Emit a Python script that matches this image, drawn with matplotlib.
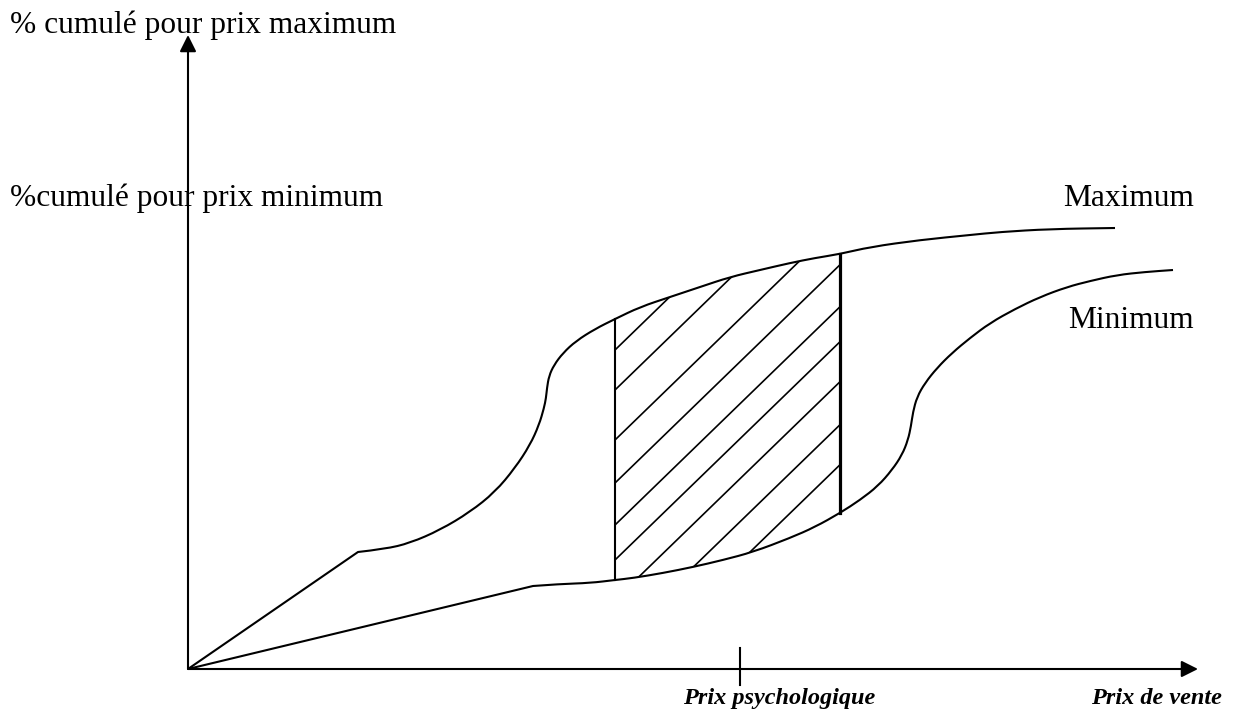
import numpy as np
import matplotlib.pyplot as plt
from matplotlib.patches import Polygon, PathPatch
from matplotlib.path import Path

# Courbe "Maximum" (% cumulé pour prix maximum), coordonnées
max_x = [188, 358, 385, 410, 440, 470, 495, 515, 530, 539, 544, 546, 547, 549, 554,
         563, 576, 595, 615, 640, 670, 700, 730, 760, 790, 815, 840, 870, 920,
         970, 1000, 1050, 1115]
max_y = [669, 552, 549, 543, 530, 512, 492, 468, 445, 425, 408, 398, 388, 376, 365,
         353, 341, 329, 319, 307, 297, 287, 277, 270, 263, 258, 254, 247, 240,
         235, 232, 229, 228]

# Courbe "Minimum" (% cumulé pour prix minimum)
min_x = [188, 533, 560, 590, 615, 633, 663, 693, 723, 753, 790, 815, 840, 860, 878,
         892, 902, 908, 911, 913, 917, 925, 937, 952, 970, 990, 1015, 1040,
         1067, 1090, 1117, 1145, 1173]
min_y = [669, 586, 584, 583, 580, 578, 573, 567, 560, 552, 538, 527, 513, 500, 486,
         470, 455, 440, 426, 412, 397, 383, 368, 353, 338, 323, 309, 297,
         287, 281, 275, 272, 270]

# zone acceptable (hachurée) entre deux prix
zone_gauche = 615
zone_droite = 840
hachures = [350, 390, 440, 483, 525, 560, 600, 643, 683]  # ordonnées à x = zone_gauche
pente = 0.97

prix_psy = 740
origine = (188, 669)
fin_axe_x = 1198
fin_axe_y = 35

fig = plt.figure(figsize=(12.33, 7.11), dpi=100)
ax = fig.add_axes([0, 0, 1, 1])
ax.set_xlim(0, 1233)
ax.set_ylim(711, 0)
ax.axis('off')

lw = 1.5


def courbe_lisse(xs, ys):
    # segment droit depuis l'origine, puis courbe de Bézier quadratique
    pts = np.column_stack([xs, ys]).astype(float)
    verts = [pts[0], pts[1]]
    codes = [Path.MOVETO, Path.LINETO]
    for k in range(2, len(pts) - 1):
        verts += [pts[k], (pts[k] + pts[k + 1]) / 2]
        codes += [Path.CURVE3, Path.CURVE3]
    verts.append(pts[-1])
    codes.append(Path.LINETO)
    return Path(verts, codes)


# axes avec flèches
fleche = dict(arrowstyle='-|>,head_length=0.5,head_width=0.25', lw=lw,
              color='black', mutation_scale=20, shrinkA=0, shrinkB=0)
ax.annotate('', xy=(origine[0], fin_axe_y), xytext=origine, arrowprops=fleche)
ax.annotate('', xy=(fin_axe_x, origine[1]), xytext=origine, arrowprops=fleche)
ax.plot([prix_psy, prix_psy], [648, 685], color='black', lw=lw)

# courbes
for xs, ys in [(max_x, max_y), (min_x, min_y)]:
    ax.add_patch(PathPatch(courbe_lisse(xs, ys), facecolor='none',
                           edgecolor='black', lw=lw, joinstyle='round'))

# zone entre les deux prix
i0, i1 = max_x.index(zone_gauche), max_x.index(zone_droite)
j0, j1 = min_x.index(zone_gauche), min_x.index(zone_droite)
haut = list(zip(max_x[i0:i1 + 1], max_y[i0:i1 + 1]))
bas = list(zip(min_x[j0:j1 + 1], min_y[j0:j1 + 1]))[::-1]
zone = Polygon(haut + bas, closed=True, facecolor='none', edgecolor='none')
ax.add_patch(zone)

xs = np.array([zone_gauche - 20, zone_droite + 20])
for c in hachures:
    ln, = ax.plot(xs, c - pente * (xs - zone_gauche), color='black', lw=1.2)
    ln.set_clip_path(zone)

ax.plot([zone_gauche, zone_gauche], [max_y[i0], min_y[j0]], color='black', lw=lw)
ax.plot([zone_droite, zone_droite], [max_y[i1], min_y[j1]], color='black', lw=2.3)

# textes
serif = 'Liberation Serif'
ax.text(10, 33, '% cumulé pour prix maximum', family=serif, fontsize=22.6)
ax.text(10, 206, '%cumulé pour prix minimum', family=serif, fontsize=22.6)
ax.text(1194, 206, 'Maximum', family=serif, fontsize=22.6, ha='right')
ax.text(1194, 328, 'Minimum', family=serif, fontsize=22.6, ha='right')
ax.text(683, 704, 'Prix psychologique', family=serif, fontsize=17.5,
        fontweight='bold', style='italic')
ax.text(1222, 704, 'Prix de vente', family=serif, fontsize=17.5,
        fontweight='bold', style='italic', ha='right')

fig.savefig('out.png', dpi=100)
